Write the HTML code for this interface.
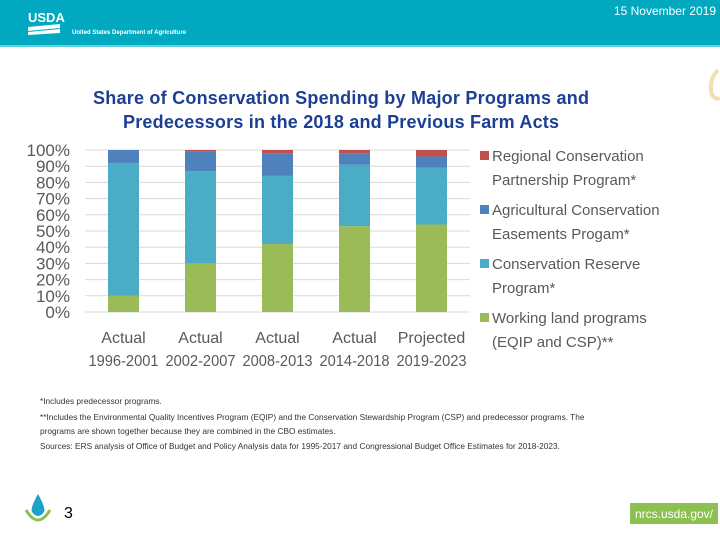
<!DOCTYPE html>
<html><head><meta charset="utf-8"><style>
body{margin:0;width:720px;height:540px;overflow:hidden;background:#fff;font-family:"Liberation Sans",sans-serif}
</style></head><body>
<svg width="720" height="540" viewBox="0 0 720 540" xmlns="http://www.w3.org/2000/svg">
<rect x="0" y="0" width="720" height="46" fill="#00a9bf"/>
<rect x="0" y="45" width="720" height="2" fill="#5fd0dc"/>
<text x="28" y="22" fill="#fff" font-size="13" font-weight="bold">USDA</text>
<path d="M28 27 L60 24 L60 28 L28 31Z M28 32 L60 29 L60 33 L28 35Z" fill="#fff"/>
<text x="72" y="34" fill="#fff" font-size="6" font-weight="bold">United States Department of Agriculture</text>
<text x="716" y="15" fill="#fff" font-size="12" text-anchor="end">15 November 2019</text>
<path d="M718 70 Q708 80 712 95 Q716 100 720 98" fill="none" stroke="#f0e0b0" stroke-width="4"/>
<text x="341" y="104" fill="#1c3f94" font-size="18" font-weight="bold" text-anchor="middle" textLength="496">Share of Conservation Spending by Major Programs and</text>
<text x="341" y="128" fill="#1c3f94" font-size="18" font-weight="bold" text-anchor="middle" textLength="436">Predecessors in the 2018 and Previous Farm Acts</text>
<g id="chart"></g>
<g font-size="15" fill="#595959">
<rect x="480" y="151" width="9" height="9" fill="#c0504d"/>
<text x="492" y="161"><tspan x="492">Regional Conservation</tspan><tspan x="492" dy="24">Partnership Program*</tspan></text>
<rect x="480" y="205" width="9" height="9" fill="#4f81bd"/>
<text x="492" y="215"><tspan x="492">Agricultural Conservation</tspan><tspan x="492" dy="24">Easements Progam*</tspan></text>
<rect x="480" y="259" width="9" height="9" fill="#4bacc6"/>
<text x="492" y="269"><tspan x="492">Conservation Reserve</tspan><tspan x="492" dy="24">Program*</tspan></text>
<rect x="480" y="313" width="9" height="9" fill="#9bbb59"/>
<text x="492" y="323"><tspan x="492">Working land programs</tspan><tspan x="492" dy="24">(EQIP and CSP)**</tspan></text>
</g>
<g font-size="8.3" fill="#333">
<text x="40" y="404">*Includes predecessor programs.</text>
<text x="40" y="420">**Includes the Environmental Quality Incentives Program (EQIP) and the Conservation Stewardship Program (CSP) and predecessor programs. The</text>
<text x="40" y="434">programs are shown together because they are combined in the CBO estimates.</text>
<text x="40" y="449">Sources: ERS analysis of Office of Budget and Policy Analysis data for 1995-2017 and Congressional Budget Office Estimates for 2018-2023.</text>
</g>
<path d="M38 494 Q30 508 32 512 Q38 520 44 512 Q46 508 38 494Z" fill="#1fa0c8"/>
<path d="M26 510 Q38 530 50 510" fill="none" stroke="#8cc152" stroke-width="3"/>
<text x="64" y="518" font-size="16" fill="#000">3</text>
<rect x="630" y="503" width="88" height="21" fill="#8cc152"/>
<text x="674" y="518" font-size="12" fill="#fff" text-anchor="middle">nrcs.usda.gov/</text>
</svg>
<script>
const categories=[["Actual","1996-2001"],["Actual","2002-2007"],["Actual","2008-2013"],["Actual","2014-2018"],["Projected","2019-2023"]];
const working=[10,30,42,53,54];
const crp=[82,57,42,38,35];
const acep=[8,12,14,7,7];
const rcpp=[0,1,2,2,4];
const yTicks=[0,10,20,30,40,50,60,70,80,90,100];
const NS="http://www.w3.org/2000/svg";
const g=document.getElementById('chart');
const x0=85,x1=470,yB=312,yT=150,bw=31;
const y=v=>yB-(v/100)*(yB-yT);
const xc=i=>x0+38.5+i*77;
function mk(t,a){const e=document.createElementNS(NS,t);for(const k in a)e.setAttribute(k,a[k]);g.appendChild(e);return e;}
yTicks.forEach(t=>{
 const l=mk('line',{x1:x0,x2:x1,y1:y(t),y2:y(t),stroke:'#d9d9d9','stroke-width':1});
 
 
 const tx=mk('text',{x:70,y:y(t)+6,'font-size':17,fill:'#595959','text-anchor':'end'});
 tx.textContent=t+'%';
 
 
});
const series=[[working,'#9bbb59','working'],[crp,'#4bacc6','crp'],[acep,'#4f81bd','acep'],[rcpp,'#c0504d','rcpp']];
categories.forEach((c,i)=>{
 let base=0;
 series.forEach(([arr,col,nm])=>{
  const v=arr[i];
  const r=mk('rect',{x:xc(i)-bw/2,y:y(base+v),width:bw,height:y(base)-y(base+v),fill:col});
  
  
  base+=v;
 });
 const t=mk('text',{x:xc(i),y:343,'font-size':16,fill:'#595959','text-anchor':'middle'});
 
 
 const s1=document.createElementNS(NS,'tspan');s1.setAttribute('x',xc(i));s1.textContent=c[0];t.appendChild(s1);
 const s2=document.createElementNS(NS,'tspan');s2.setAttribute('x',xc(i));s2.setAttribute('dy','23');s2.setAttribute('textLength','70');s2.setAttribute('lengthAdjust','spacingAndGlyphs');s2.textContent=c[1];t.appendChild(s2);
});
</script>
</body></html>
